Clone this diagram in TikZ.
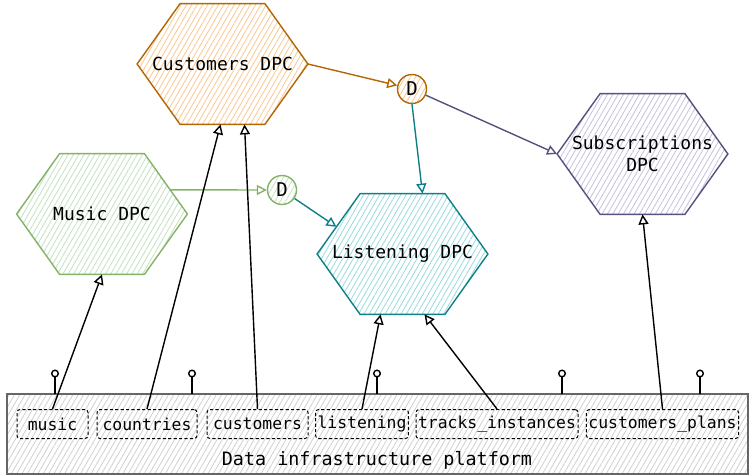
\documentclass[tikz,border=0pt]{standalone}
\usepackage{fontspec}
\setmonofont{DejaVu Sans Mono}
\usepackage{tikz}
\usetikzlibrary{calc,backgrounds,patterns.meta,arrows.meta}
\definecolor{custline}{HTML}{B46504}
\definecolor{custfill}{HTML}{F7C890}
\definecolor{musicline}{HTML}{82B366}
\definecolor{musicfill}{HTML}{C3E0BF}
\definecolor{lstline}{HTML}{0E8088}
\definecolor{lstfill}{HTML}{9ADADE}
\definecolor{subsline}{HTML}{56517E}
\definecolor{subsfill}{HTML}{C4C1DC}
\definecolor{platline}{HTML}{666666}
\definecolor{platfill}{HTML}{CFCFCF}

\begin{document}
\begin{tikzpicture}[x=0.5pt,y=-0.5pt,
  hatch/.style={pattern={Lines[angle=60,distance=2.3pt,line width=0.4pt]},pattern color=#1},
  dpc/.style={rectangle, minimum width=85pt, minimum height=60pt,
    inner sep=0pt, align=center, font=\ttfamily\fontsize{9}{11}\selectfont},
  dnode/.style={circle, minimum size=14.5pt, inner sep=0pt, line width=0.7pt,
    font=\ttfamily\fontsize{9.5}{11}\selectfont},
  tbl/.style={draw, dash pattern=on 1.6pt off 1.1pt, rounded corners=1.5pt,
    minimum height=14.5pt, inner sep=1pt, line width=0.5pt,
    font=\ttfamily\fontsize{8.2}{10}\selectfont},
  flow/.style={-{Triangle[open,length=5pt,width=5pt]}, line width=0.7pt}]
\useasboundingbox (0,0) rectangle (753,475);
% platform
\draw[platline, line width=0.7pt, hatch=platfill] (7,394) rectangle (748,474);
\node[font=\ttfamily\fontsize{9.2}{11}\selectfont] (plat) at (377,460) {Data infrastructure platform};
\foreach \px in {55,192,377,562,700} {
  \draw[line width=0.7pt] (\px,394) -- (\px,377);
  \draw[line width=0.7pt] (\px,373.5) circle (3.3);
}
%
\node[tbl, minimum width=35.5pt] (music) at (52.5,424) {music};
\node[tbl, minimum width=50pt] (countries) at (147,424) {countries};
\node[tbl, minimum width=50.5pt] (customers) at (257.5,424) {customers};
\node[tbl, minimum width=45pt] (listening) at (362,424) {listening};
\node[tbl, minimum width=80pt] (tracks) at (497,424) {tracks\_instances};
\node[tbl, minimum width=75.5pt] (plans) at (662.5,424) {customers\_plans};
%
\node[dpc] (custdpc) at (222.5,64) {Customers DPC};
\node[dpc] (musicdpc) at (102,214) {Music DPC};
\node[dpc] (lstdpc) at (402.5,254) {Listening DPC};
\node[dpc] (subsdpc) at (642.5,154) {Subscriptions\\DPC};
\node[dnode, draw=custline, hatch=custfill] (d1) at (412,89) {D};
\node[dnode, draw=musicline, hatch=musicfill] (d2) at (282,190) {D};
% hexagons behind the labels
\begin{scope}[on background layer]
\foreach \n/\c in {custdpc/cust, musicdpc/music, lstdpc/lst, subsdpc/subs}
  \draw[\c line, line width=0.7pt, hatch=\c fill] (\n.west)
    -- ([xshift=21.5pt]\n.north west) -- ([xshift=-21.5pt]\n.north east)
    -- (\n.east) -- ([xshift=-21.5pt]\n.south east)
    -- ([xshift=21.5pt]\n.south west) -- cycle;
\end{scope}
%
\draw[flow, custline] (custdpc.east) -- (d1);
\draw[flow, lstline] (d1.south) -- ([xshift=10pt]lstdpc.north);
\draw[flow, subsline] (d1) -- (subsdpc.west);
\draw[flow, musicline] ($(musicdpc.east)!0.4!([xshift=-21.5pt]musicdpc.north east)$) -- (d2.west);
\draw[flow, lstline] (d2) -- ($(lstdpc.west)!0.45!([xshift=21.5pt]lstdpc.north west)$);
%
\draw[flow] (music.north) -- (musicdpc.south);
\draw[flow] (countries.north) -- ([xshift=-1pt]custdpc.south);
\draw[flow] (customers.north) -- ([xshift=11pt]custdpc.south);
\draw[flow] (listening.north) -- ([xshift=-11pt]lstdpc.south);
\draw[flow] (tracks.north) -- ([xshift=11pt]lstdpc.south);
\draw[flow] (plans.north) -- (subsdpc.south);
\end{tikzpicture}
\end{document}
